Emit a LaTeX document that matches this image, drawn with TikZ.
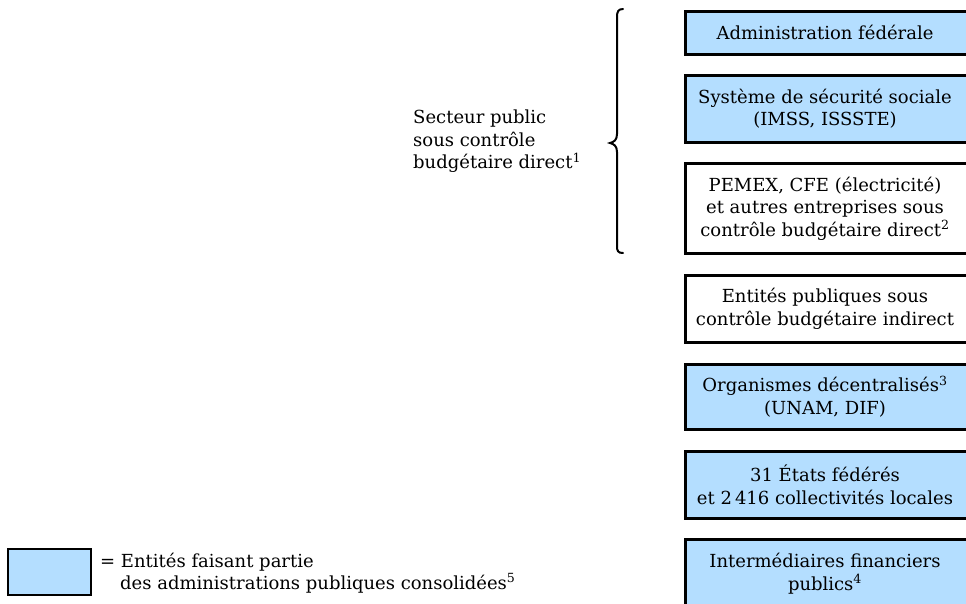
\documentclass[tikz,border=0pt]{standalone}
\usepackage{fontspec}
\setmainfont{DejaVu Serif}
\definecolor{consol}{RGB}{180,222,255}
\begin{document}
\begin{tikzpicture}[x=1pt,y=-1pt,
  entity/.style={draw=black,line width=2.6pt,minimum width=310pt,inner sep=0pt,anchor=north west},
  incl/.style={entity,fill=consol},
  excl/.style={entity,fill=white},
  txt/.style={font=\fontsize{18}{22.5}\selectfont,inner sep=0pt},
  boxtext/.style={txt,align=center}]
\useasboundingbox (0,0) rectangle (966,603);
\clip (0,0) rectangle (966,603);

% category boxes (right edge runs off the page); labels centred at x = 825
\node[incl,minimum height=43pt] (fed) at (684,10) {};
\node[boxtext] (fedtxt) at ([xshift=141pt]fed.west) {Administration fédérale};

\node[incl,minimum height=67pt] (secu) at (684,74) {};
\node[boxtext] (secutxt) at ([xshift=141pt]secu.west) {Système de sécurité sociale\\(IMSS, ISSSTE)};

\node[excl,minimum height=90pt] (pemex) at (684,162) {};
\node[boxtext] (pemextxt) at ([xshift=141pt]pemex.west) {PEMEX, CFE (électricité)\\et autres entreprises sous\\contrôle budgétaire direct\textsuperscript{2}};

\node[excl,minimum height=67pt] (indir) at (684,274) {};
\node[boxtext] (indirtxt) at ([xshift=141pt]indir.west) {Entités publiques sous\\contrôle budgétaire indirect};

\node[incl,minimum height=65pt] (decent) at (684,363) {};
\node[boxtext] (decenttxt) at ([xshift=141pt]decent.west) {Organismes décentralisés\textsuperscript{3}\\(UNAM, DIF)};

\node[incl,minimum height=67pt] (etats) at (684,450) {};
\node[boxtext] (etatstxt) at ([xshift=141pt]etats.west) {31 États fédérés\\et 2\,416 collectivités locales};

\node[incl,minimum height=90pt] (interm) at (684,538) {};
\node[boxtext,anchor=north] (intermtxt) at ([xshift=141pt,yshift=-15pt]interm.north west) {Intermédiaires financiers\\publics\textsuperscript{4}};

% brace grouping the first three boxes
\draw[line width=2pt,line cap=round] (623,9) .. controls (618,9) and (617,12) .. (617,17)
  -- (617,134) .. controls (617,140) and (614,142) .. (610,143)
  .. controls (614,144) and (617,146) .. (617,152)
  -- (617,246) .. controls (617,251) and (618,253) .. (623,253);
\node[txt,align=left,anchor=north west] (direct) at (413,110) {Secteur public\\sous contrôle\\budgétaire direct\textsuperscript{1}};

% legend
\node[draw=black,line width=2.4pt,fill=consol,minimum width=83pt,minimum height=46pt,
  inner sep=0pt,anchor=north west] (key) at (7,548) {};
\node[txt,align=left,anchor=north west,font=\fontsize{18}{21.5}\selectfont] (keytxt) at (100,553) {= Entités faisant partie\\\hspace*{20pt}des administrations publiques consolidées\textsuperscript{5}};
\end{tikzpicture}
\end{document}
